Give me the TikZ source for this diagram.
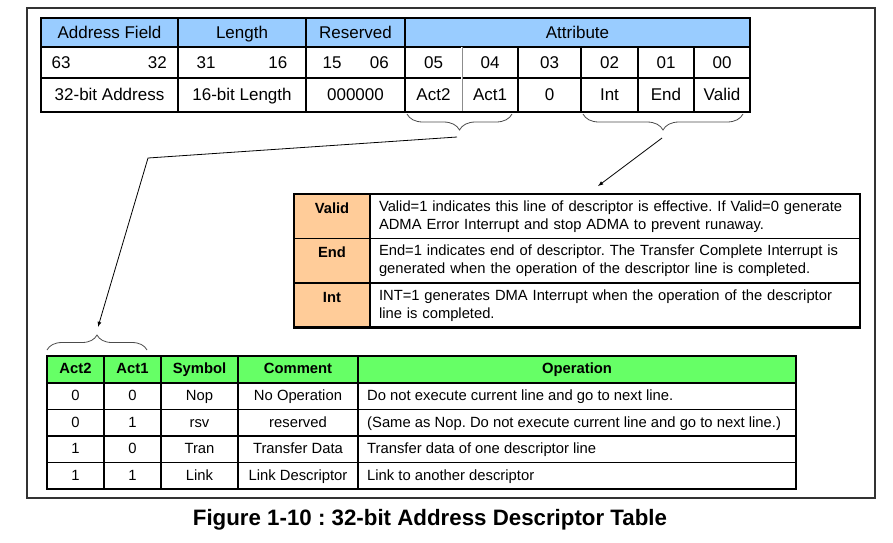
\documentclass[tikz,border=0pt]{standalone}
\usepackage{fontspec}
\setmainfont{Liberation Sans}
\usepackage{tikz}
\usetikzlibrary{positioning}
\usetikzlibrary{decorations.pathreplacing,arrows}
\definecolor{headblue}{HTML}{99CCFF}
\definecolor{headgreen}{HTML}{66FF66}
\definecolor{laborange}{HTML}{FFCC99}
\newcommand{\topfont}{\fontsize{17}{20}\selectfont}
\newcommand{\descfont}{\fontsize{14.75}{18}\selectfont}
\newcommand{\selfont}{\fontsize{14.8}{17}\selectfont}
\frenchspacing

\begin{document}
\begin{tikzpicture}[x=1pt,y=-1pt]
\tikzstyle{cell}=[rectangle, draw=black, line width=1.4pt, anchor=north west, inner sep=0pt, outer sep=0pt, font=\topfont, text height=14.5pt, text depth=3pt]
\tikzstyle{bluecell}=[cell, fill=headblue]
\tikzstyle{bitno}=[inner sep=0pt, font=\topfont, text height=14.5pt, text depth=3pt]
\tikzstyle{labcell}=[rectangle, draw=black, line width=1.4pt, anchor=north west, outer sep=0pt, fill=laborange, minimum width=76, minimum height=44.5]
\tikzstyle{lab}=[inner sep=0pt, font=\descfont\bfseries]
\tikzstyle{desc}=[rectangle, draw=black, line width=1.4pt, anchor=north west, outer sep=0pt, inner xsep=9pt, inner ysep=0pt, text width=472, minimum height=44.5, align=left, font=\descfont]
\tikzstyle{selcell}=[rectangle, draw=black, line width=1.4pt, anchor=north west, inner sep=0pt, outer sep=0pt, font=\selfont, minimum height=26.5, text height=11.5pt, text depth=3pt]
\tikzstyle{greencell}=[selcell, fill=headgreen, minimum height=27, font=\selfont\bfseries]
\tikzstyle{optext}=[anchor=west, inner sep=0pt, font=\selfont, text height=11.5pt, text depth=3pt]
\tikzstyle{outline}=[line width=2.6pt]
\tikzstyle{brace}=[decorate, decoration={brace, amplitude=15pt}, draw=black!70, line width=0.8pt]
\tikzstyle{bracedown}=[decorate, decoration={brace, amplitude=16pt, mirror}, draw=black!70, line width=0.8pt]
\tikzstyle{connect}=[-latex, line width=0.8pt]
\useasboundingbox (0,0) rectangle (893,542);
\draw[line width=1.2pt, black!80] (27,8) rectangle (875,498);

	% descriptor word
	\node[bluecell, minimum width=137, minimum height=29] (h_addr) at (41,18) {Address Field};
	\node[bluecell, minimum width=128, minimum height=29] (h_len) at (178,18) {Length};
	\node[bluecell, minimum width=99, minimum height=29] (h_res) at (306,18) {Reserved};
	\node[bluecell, minimum width=345, minimum height=29] (h_attr) at (405,18) {Attribute};

	\node[cell, minimum width=137, minimum height=31] (b_addr) at (41,47) {};
	\node[cell, minimum width=128, minimum height=31] (b_len) at (178,47) {};
	\node[cell, minimum width=99, minimum height=31] (b_res) at (306,47) {};
	\node[cell, minimum width=57, minimum height=31] (b_05) at (405,47) {05};
	\node[cell, minimum width=56, minimum height=31] (b_04) at (462,47) {04};
	\node[cell, minimum width=63, minimum height=31] (b_03) at (518,47) {03};
	\node[cell, minimum width=57, minimum height=31] (b_02) at (581,47) {02};
	\node[cell, minimum width=56, minimum height=31] (b_01) at (638,47) {01};
	\node[cell, minimum width=56, minimum height=31] (b_00) at (694,47) {00};
	\node[bitno, anchor=west] (b63) at (51.5,62.5) {63};
	\node[bitno, anchor=east] (b32) at (167,62.5) {32};
	\node[bitno, anchor=west] (b31) at (196.5,62.5) {31};
	\node[bitno, anchor=east] (b16) at (287.5,62.5) {16};
	\node[bitno, anchor=west] (b15) at (322.5,62.5) {15};
	\node[bitno, anchor=east] (b06) at (389,62.5) {06};

	\node[cell, minimum width=137, minimum height=34] (a_addr) at (41,78) {32-bit Address};
	\node[cell, minimum width=128, minimum height=34] (a_len) at (178,78) {16-bit Length};
	\node[cell, minimum width=99, minimum height=34] (a_res) at (306,78) {000000};
	\node[cell, minimum width=57, minimum height=34] (a_05) at (405,78) {Act2};
	\node[cell, minimum width=56, minimum height=34] (a_04) at (462,78) {Act1};
	\node[cell, minimum width=63, minimum height=34] (a_03) at (518,78) {0};
	\node[cell, minimum width=57, minimum height=34] (a_02) at (581,78) {Int};
	\node[cell, minimum width=56, minimum height=34] (a_01) at (638,78) {End};
	\node[cell, minimum width=56, minimum height=34] (a_00) at (694,78) {Valid};
	\draw[white, line width=1.4pt] (b_04.north west) -- (a_04.south west);
	\draw[black!45, line width=0.7pt] (b_04.north west) -- (a_04.south west);
	\draw[outline] (h_addr.north west) rectangle (a_00.south east);

	% attribute flags
	\node[labcell] (valid_l) at (294,194) {};
	\node[desc] (valid_d) at (370,194) {Valid=1 indicates this line of descriptor is effective. If Valid=0 generate\\ADMA Error Interrupt and stop ADMA to prevent runaway.};
	\node[labcell] (end_l) at (294,238.5) {};
	\node[desc] (end_d) at (370,238.5) {End=1 indicates end of descriptor. The Transfer Complete Interrupt is\\generated when the operation of the descriptor line is completed.};
	\node[labcell] (int_l) at (294,283) {};
	\node[desc] (int_d) at (370,283) {INT=1 generates DMA Interrupt when the operation of the descriptor\\line is completed.};
	\node[lab] (valid_t) at (332,208) {Valid};
	\node[lab] (end_t) at (332,252.5) {End};
	\node[lab] (int_t) at (332,297) {Int};
	\draw[outline] (valid_l.north west) rectangle (int_d.south east);

	% action table
	\node[greencell, minimum width=57] (g_act2) at (47,356) {Act2};
	\node[greencell, minimum width=57] (g_act1) at (104,356) {Act1};
	\node[greencell, minimum width=77] (g_sym) at (161,356) {Symbol};
	\node[greencell, minimum width=120] (g_com) at (238,356) {Comment};
	\node[greencell, minimum width=438] (g_op) at (358,356) {Operation};

	\node[selcell, minimum width=57] (r1_a2) at (47,383) {0};
	\node[selcell, minimum width=57] (r1_a1) at (104,383) {0};
	\node[selcell, minimum width=77] (r1_sym) at (161,383) {Nop};
	\node[selcell, minimum width=120] (r1_com) at (238,383) {No Operation};
	\node[selcell, minimum width=438] (r1_op) at (358,383) {};
	\node[optext] (r1_opt) at ([xshift=9pt]r1_op.west) {Do not execute current line and go to next line.};

	\node[selcell, minimum width=57] (r2_a2) at (47,409.5) {0};
	\node[selcell, minimum width=57] (r2_a1) at (104,409.5) {1};
	\node[selcell, minimum width=77] (r2_sym) at (161,409.5) {rsv};
	\node[selcell, minimum width=120] (r2_com) at (238,409.5) {reserved};
	\node[selcell, minimum width=438] (r2_op) at (358,409.5) {};
	\node[optext] (r2_opt) at ([xshift=9pt]r2_op.west) {(Same as Nop. Do not execute current line and go to next line.)};

	\node[selcell, minimum width=57] (r3_a2) at (47,436) {1};
	\node[selcell, minimum width=57] (r3_a1) at (104,436) {0};
	\node[selcell, minimum width=77] (r3_sym) at (161,436) {Tran};
	\node[selcell, minimum width=120] (r3_com) at (238,436) {Transfer Data};
	\node[selcell, minimum width=438] (r3_op) at (358,436) {};
	\node[optext] (r3_opt) at ([xshift=9pt]r3_op.west) {Transfer data of one descriptor line};

	\node[selcell, minimum width=57] (r4_a2) at (47,462.5) {1};
	\node[selcell, minimum width=57] (r4_a1) at (104,462.5) {1};
	\node[selcell, minimum width=77] (r4_sym) at (161,462.5) {Link};
	\node[selcell, minimum width=120] (r4_com) at (238,462.5) {Link Descriptor};
	\node[selcell, minimum width=438] (r4_op) at (358,462.5) {};
	\node[optext] (r4_opt) at ([xshift=9pt]r4_op.west) {Link to another descriptor};
	\draw[outline] (g_act2.north west) rectangle (r4_op.south east);

	% braces and pointers
	\draw[bracedown] (407,114) -- (512,114);
	\draw[bracedown] (583,114) -- (743,114);
	\draw[brace] (47,350) -- (147,350);
	\coordinate (act_tip) at (457,137);
	\coordinate (kink) at (148,158);
	\coordinate (sel_tip) at (98,327);
	\coordinate (flag_tip) at (662,138);
	\coordinate (flag_end) at (598,186);

	\draw[connect] (act_tip) -- (kink) -- (sel_tip);
	\draw[connect] (flag_tip) -- (flag_end);

	\node[font=\fontsize{22.3}{26}\selectfont\bfseries] (caption) at (430,520) {Figure 1-10 : 32-bit Address Descriptor Table};
\end{tikzpicture}
\end{document}
